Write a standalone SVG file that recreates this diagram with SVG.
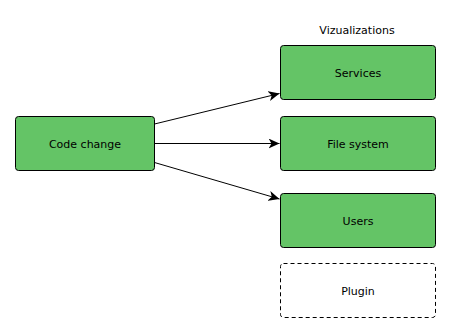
<svg xmlns="http://www.w3.org/2000/svg" width="450" height="332" viewBox="0 0 450 332">
  <style>
    .box { fill: #64c466; stroke: #000; stroke-width: 1; }
    .plug { fill: #fff; stroke: #000; stroke-width: 1; stroke-dasharray: 4 3; }
    .lbl { font-family: "DejaVu Sans", Verdana, sans-serif; font-size: 11px; fill: #000; text-anchor: middle; }
    .edge { fill: none; stroke: #000; stroke-width: 1; marker-end: url(#arrow); }
  </style>
  <defs>
    <marker id="arrow" markerWidth="12" markerHeight="10" refX="11" refY="5" orient="auto" markerUnits="userSpaceOnUse">
      <path d="M0,0 L11,5 L0,10 L3,5 Z" fill="#000"/>
    </marker>
  </defs>
  <rect width="450" height="332" fill="#fff"/>
  <g id="connectors">
    <line class="edge" x1="154.5" y1="124" x2="279.5" y2="93.5"/>
    <line class="edge" x1="154.5" y1="143.5" x2="279.5" y2="143.5"/>
    <line class="edge" x1="154.5" y1="162.5" x2="279.5" y2="199"/>
  </g>
  <g id="code-change">
    <rect class="box" x="15.5" y="116.5" width="139" height="54" rx="3"/>
    <text class="lbl" x="85" y="147.5">Code change</text>
  </g>
  <g id="vizualizations-title">
    <text class="lbl" x="357" y="34">Vizualizations</text>
  </g>
  <g id="services">
    <rect class="box" x="280.5" y="45.5" width="155" height="54" rx="3"/>
    <text class="lbl" x="358" y="76.5">Services</text>
  </g>
  <g id="file-system">
    <rect class="box" x="280.5" y="116.5" width="155" height="54" rx="3"/>
    <text class="lbl" x="358" y="147.5">File system</text>
  </g>
  <g id="users">
    <rect class="box" x="280.5" y="193.5" width="155" height="54" rx="3"/>
    <text class="lbl" x="358" y="224.5">Users</text>
  </g>
  <g id="plugin">
    <rect class="plug" x="280.5" y="263.5" width="155" height="54" rx="3"/>
    <text class="lbl" x="358" y="294.5">Plugin</text>
  </g>
</svg>
